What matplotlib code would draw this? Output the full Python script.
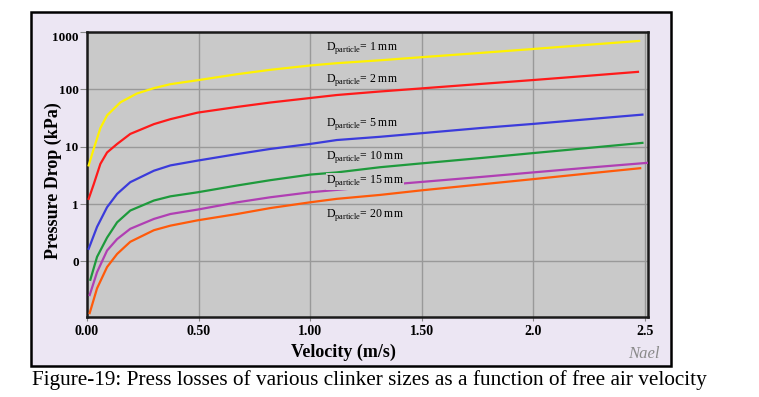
import matplotlib
matplotlib.use('Agg')
import matplotlib.pyplot as plt
from matplotlib.patches import Rectangle

plt.rcParams['font.family'] = 'Liberation Serif'
plt.rcParams['mathtext.fontset'] = 'custom'
plt.rcParams['mathtext.rm'] = 'Liberation Serif'

# values (velocity m/s, pressure drop kPa)
v_1mm = [0.0075, 0.03, 0.06, 0.09, 0.15, 0.224, 0.30, 0.374, 0.496, 0.673, 0.822, 1.0,
         1.12, 1.314, 1.5, 1.763, 2.0, 2.24, 2.475]
dp_1mm = [4.7, 9.1, 21, 35, 59, 84, 104, 122, 143, 182, 217, 258,
          283, 318, 360, 427, 500, 589, 690]

v_2mm = [0.0075, 0.03, 0.06, 0.09, 0.135, 0.194, 0.30, 0.374, 0.496, 0.673, 0.822, 1.0,
         1.12, 1.314, 1.5, 1.763, 2.0, 2.24, 2.47]
dp_2mm = [1.23, 2.2, 5.0, 7.9, 11.1, 16.6, 24.6, 30, 39, 49, 58.5, 70,
          79, 91, 103, 123, 144, 170, 200]

v_5mm = [0.0075, 0.045, 0.09, 0.135, 0.194, 0.30, 0.374, 0.496, 0.673, 0.822, 1.0,
         1.12, 1.314, 1.5, 1.763, 2.0, 2.24, 2.49]
dp_5mm = [0.166, 0.40, 0.88, 1.5, 2.4, 3.8, 4.7, 5.7, 7.4, 9.1, 11.1,
          13, 14.8, 17.1, 21, 24.8, 29.8, 36]

v_10mm = [0.015, 0.045, 0.09, 0.135, 0.194, 0.30, 0.374, 0.496, 0.673, 0.822, 1.0,
          1.12, 1.314, 1.5, 1.763, 2.0, 2.24, 2.49]
dp_10mm = [0.048, 0.12, 0.26, 0.48, 0.77, 1.15, 1.36, 1.6, 2.1, 2.6, 3.25,
           3.55, 4.37, 5.1, 6.3, 7.7, 9.4, 11.6]

v_15mm = [0.012, 0.045, 0.09, 0.135, 0.194, 0.30, 0.374, 0.496, 0.673, 0.822, 1.0,
          1.12, 1.19, 1.43, 1.763, 2.0, 2.24, 2.51]
dp_15mm = [0.026, 0.065, 0.155, 0.245, 0.37, 0.55, 0.67, 0.80, 1.07, 1.31, 1.6,
           1.76, 1.86, 2.3, 2.95, 3.55, 4.27, 5.2]

v_20mm = [0.012, 0.045, 0.09, 0.135, 0.194, 0.30, 0.374, 0.496, 0.673, 0.822, 1.0,
          1.12, 1.314, 1.5, 1.763, 2.0, 2.24, 2.48]
dp_20mm = [0.0126, 0.034, 0.080, 0.135, 0.22, 0.35, 0.42, 0.52, 0.67, 0.85, 1.07,
           1.23, 1.44, 1.73, 2.19, 2.71, 3.38, 4.2]

sizes = ['1', '2', '5', '10', '15', '20']
colors = ['#FFF200', '#FF1A1A', '#3B3BDB', '#1E9A3C', '#B03FB3', '#FF5A0A']
label_v = 1.072
label_dp = [525, 147, 24.3, 6.5, 2.47, 0.65]

x_ticks = [0, 0.5, 1.0, 1.5, 2.0, 2.5]
x_tick_labels = ['0.00', '0.50', '1.00', '1.50', '2.0', '2.5']
y_ticks = [0.1, 1, 10, 100, 1000]
y_tick_labels = ['0', '1', '10', '100', '1000']

plot_bg = '#C9C9C9'

fig = plt.figure(figsize=(7.59, 3.97), dpi=100)
fig.patch.set_facecolor('white')

# lavender frame behind the chart
panel = Rectangle((31 / 759, 1 - 366 / 397), (671 - 31) / 759, (366 - 12) / 397,
                  transform=fig.transFigure, facecolor='#ECE6F3', edgecolor='black',
                  linewidth=1.8, zorder=-1)
fig.patches.append(panel)

ax = fig.add_axes([87 / 759, 1 - 316.5 / 397, (648 - 87) / 759, (316.5 - 31.7) / 397])
ax.set_zorder(2)
ax.set_facecolor(plot_bg)

series = [(v_1mm, dp_1mm), (v_2mm, dp_2mm), (v_5mm, dp_5mm),
          (v_10mm, dp_10mm), (v_15mm, dp_15mm), (v_20mm, dp_20mm)]
for (vx, dp), c in zip(series, colors):
    ax.plot(vx, dp, color=c, linewidth=1.6, solid_joinstyle='round', zorder=3)

for s, ly in zip(sizes, label_dp):
    t = ax.text(label_v, ly, r'D$_{\mathrm{particle}}$= ' + s + ' mm', fontsize=8.5,
                va='center', ha='left', zorder=4)
    if s == '15':
        # this label sits on top of the 15 mm curve
        t.set_bbox(dict(facecolor=plot_bg, edgecolor='none', pad=0.3))

ax.set_yscale('log')
ax.set_xlim(0, 2.515)
ax.set_ylim(0.011, 1000)
ax.set_xticks(x_ticks)
ax.set_xticklabels(x_tick_labels, fontsize=10, fontweight='bold')
ax.set_yticks(y_ticks)
ax.set_yticklabels(y_tick_labels, fontsize=9.5, fontweight='bold')
ax.minorticks_off()
ax.get_yticklabels()[-1].set_va('top')
ax.tick_params(axis='x', length=3, pad=3, color='#888888')
ax.tick_params(axis='y', length=5, pad=1, color='#888888')
ax.grid(True, color='#999999', linewidth=1.0)
ax.set_axisbelow(True)
for sp in ax.spines.values():
    sp.set_linewidth(1.8)
    sp.set_color('#1a1a1a')

ax.set_xlabel('Velocity (m/s)', fontsize=13, fontweight='bold', labelpad=1)
ax.xaxis.set_label_coords(0.457, -0.095)
ax.set_ylabel('Pressure Drop (kPa)', fontsize=13, fontweight='bold')
ax.yaxis.set_label_coords(-0.045, 0.476)

fig.text(660 / 759, 1 - 354 / 397, 'Nael', fontsize=12, style='italic',
         color='#8a8a8a', ha='right', va='center')
fig.text(32 / 759, 1 - 380 / 397,
         'Figure-19: Press losses of various clinker sizes as a function of free air velocity',
         fontsize=15.3, ha='left', va='center')

fig.savefig('out.png', dpi=100)
